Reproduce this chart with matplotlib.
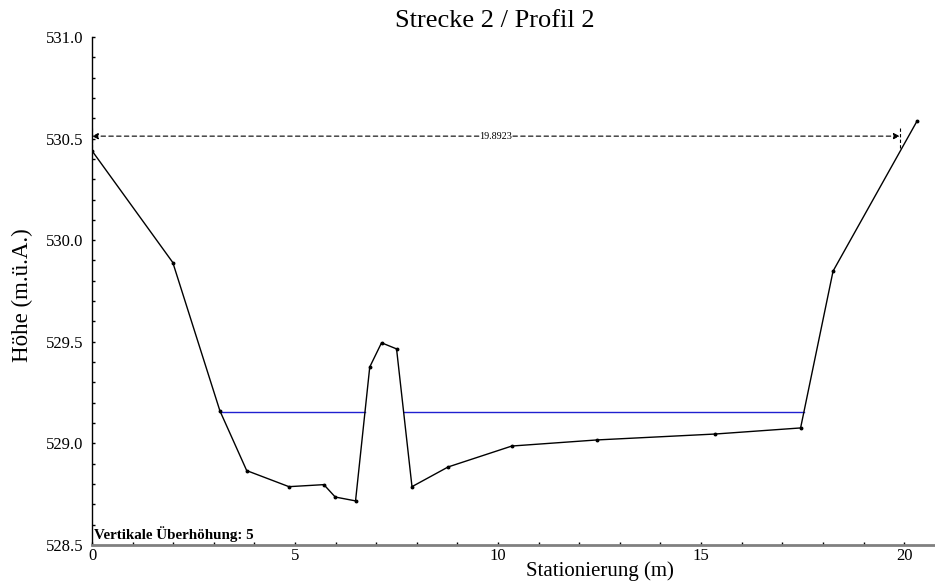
import numpy as np
import matplotlib
matplotlib.use("Agg")
import matplotlib.pyplot as plt
from matplotlib.ticker import MultipleLocator

plt.rcParams['font.family'] = ['Liberation Serif', 'DejaVu Serif']

# Profilpunkte (Station m, Höhe m ü.A.)
station = [0.0, 1.99, 3.15, 3.81, 4.85, 5.71, 5.99, 6.49, 6.84, 7.13, 7.50,
           7.88, 8.77, 10.34, 12.44, 15.34, 17.45, 18.25, 20.32]
hoehe = [530.44, 529.89, 529.16, 528.866, 528.787, 528.797, 528.736, 528.717,
         529.376, 529.495, 529.465, 528.787, 528.884, 528.987, 529.017, 529.046,
         529.076, 529.848, 530.587]
wasserspiegel = 529.152
breite = 19.8923
breite_hoehe = 530.512
ueberhoehung = 5


def nasse_abschnitte(x, y, wsp):
    # Abschnitte, in denen das Gelaende unter dem Wasserspiegel liegt
    x = np.asarray(x)
    y = np.asarray(y)
    abschnitte = []
    start = None
    for i in range(len(x) - 1):
        y0, y1 = y[i], y[i + 1]
        if (y0 - wsp) * (y1 - wsp) < 0:
            xc = x[i] + (wsp - y0) / (y1 - y0) * (x[i + 1] - x[i])
            if y1 < wsp:
                start = xc
            elif start is not None:
                abschnitte.append((start, xc))
                start = None
    return abschnitte


fig = plt.figure(figsize=(9.35, 5.85), dpi=100)
ax = fig.add_axes([0.0984, 0.0684, 0.9016, 0.8684])

for a, b in nasse_abschnitte(station, hoehe, wasserspiegel):
    ax.plot([a, b], [wasserspiegel, wasserspiegel], color='#2020d0', lw=1.0, zorder=2)

ax.plot(station, hoehe, color='black', lw=1.0, marker='o', markersize=1.8, zorder=3)

# Bemassung Breite
for ziel, start in [(0, breite / 2 - 0.42), (breite, breite / 2 + 0.42)]:
    ax.annotate('', xy=(ziel, breite_hoehe), xytext=(start, breite_hoehe),
                arrowprops=dict(arrowstyle='-|>', color='black', lw=0.8,
                                ls=(0, (4, 3)), mutation_scale=9,
                                shrinkA=0, shrinkB=0))
for xe in [0, breite]:
    ax.plot([xe, xe], [breite_hoehe - 0.06, breite_hoehe + 0.04], color='black',
            lw=0.8, ls=(0, (3, 2)), zorder=4)
ax.text(breite / 2, breite_hoehe, f'{breite:.4f}', fontsize=7.3, ha='center',
        va='center', zorder=5)

ax.text(0.06, 528.515, f'Vertikale Überhöhung: {ueberhoehung}', fontsize=10.8,
        fontweight='bold', ha='left', va='bottom')

ax.set_xlim(0, 20.76)
ax.set_ylim(528.5, 531.0)
ax.xaxis.set_major_locator(MultipleLocator(5))
ax.xaxis.set_minor_locator(MultipleLocator(1))
ax.yaxis.set_major_locator(MultipleLocator(0.5))
ax.yaxis.set_minor_locator(MultipleLocator(0.1))
ax.yaxis.set_major_formatter(lambda v, p: f'{v:.1f}')
ax.tick_params(which='both', direction='in', length=2.5, width=1.0, labelsize=12)
ax.tick_params(axis='x', pad=2)
ax.tick_params(axis='y', pad=6)

ax.spines['top'].set_visible(False)
ax.spines['right'].set_visible(False)
ax.spines['bottom'].set_color('#808080')
ax.spines['bottom'].set_linewidth(2)
ax.spines['left'].set_linewidth(1)

fig.text(495 / 935, 1 - 21 / 585, 'Strecke 2 / Profil 2', fontsize=19,
         ha='center', va='center')
fig.text(600 / 935, 1 - 571 / 585, 'Stationierung (m)', fontsize=15,
         ha='center', va='center')
fig.text(22 / 935, 1 - 295 / 585, 'Höhe (m.ü.A.)', fontsize=16.5,
         ha='center', va='center', rotation=90)

fig.savefig('out.png', dpi=100)
